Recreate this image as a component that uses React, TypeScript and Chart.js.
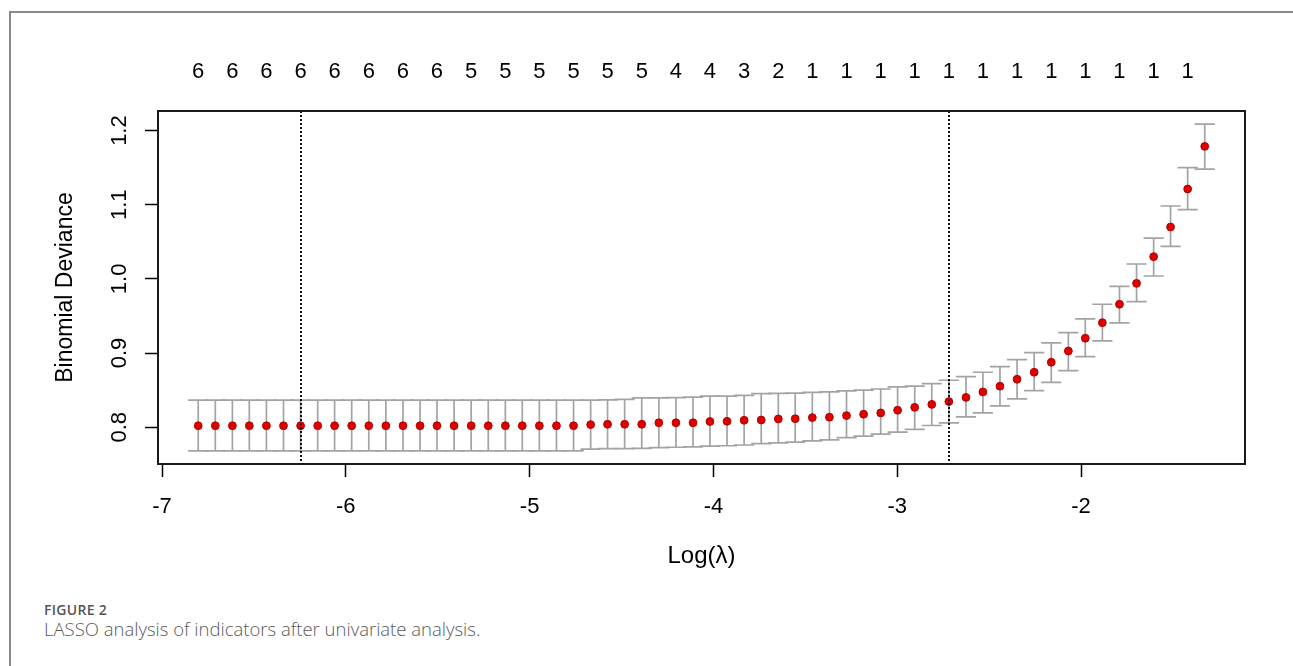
import React, { useEffect, useRef } from "react";
import { Chart, registerables } from "chart.js";

Chart.register(...registerables);

// log(lambda) values (x positions of the cross-validation points)
const logLambda = [
  -6.803, -6.710, -6.617, -6.525, -6.432, -6.339, -6.246, -6.153, -6.061, -5.968,
  -5.875, -5.782, -5.689, -5.596, -5.504, -5.411, -5.318, -5.225, -5.132, -5.040,
  -4.947, -4.854, -4.761, -4.668, -4.576, -4.483, -4.390, -4.297, -4.204, -4.111,
  -4.019, -3.926, -3.833, -3.740, -3.647, -3.555, -3.462, -3.369, -3.276, -3.183,
  -3.090, -2.998, -2.905, -2.812, -2.719, -2.626, -2.534, -2.441, -2.348, -2.255,
  -2.162, -2.069, -1.977, -1.884, -1.791, -1.698, -1.605, -1.513, -1.420, -1.327,
];

// mean binomial deviance
const meanDeviance = [
  0.802, 0.802, 0.802, 0.802, 0.802, 0.802, 0.802, 0.802, 0.802, 0.802,
  0.802, 0.802, 0.802, 0.802, 0.802, 0.802, 0.802, 0.802, 0.802, 0.802,
  0.802, 0.802, 0.802, 0.8035, 0.804, 0.804, 0.804, 0.806, 0.806, 0.806,
  0.8077, 0.808, 0.8094, 0.8097, 0.8112, 0.8115, 0.813, 0.8135, 0.8157, 0.8175,
  0.8193, 0.8229, 0.8268, 0.8308, 0.8346, 0.8402, 0.8476, 0.8553, 0.8647, 0.8741,
  0.8876, 0.9028, 0.92, 0.941, 0.9658, 0.994, 1.03, 1.07, 1.1212, 1.1787,
];

// upper error bar (mean + 1 SE)
const upperDeviance = [
  0.8364, 0.8364, 0.8364, 0.8364, 0.8364, 0.8364, 0.8364, 0.8364, 0.8364, 0.8364,
  0.8364, 0.8364, 0.8364, 0.8364, 0.8364, 0.8364, 0.8364, 0.8364, 0.8364, 0.8364,
  0.8364, 0.8364, 0.8364, 0.8365, 0.837, 0.8375, 0.8395, 0.8395, 0.84, 0.8405,
  0.8418, 0.842, 0.843, 0.8453, 0.8455, 0.846, 0.847, 0.8476, 0.849, 0.85,
  0.8515, 0.8545, 0.8555, 0.8589, 0.8633, 0.8683, 0.8741, 0.8818, 0.8912, 0.9006,
  0.9136, 0.9276, 0.946, 0.9658, 0.99, 1.0201, 1.0551, 1.0983, 1.15, 1.2088,
];

// lower error bar (mean - 1 SE)
const lowerDeviance = [
  0.768, 0.768, 0.768, 0.768, 0.768, 0.768, 0.768, 0.768, 0.768, 0.768,
  0.768, 0.768, 0.768, 0.768, 0.768, 0.768, 0.768, 0.768, 0.768, 0.768,
  0.768, 0.768, 0.768, 0.7705, 0.771, 0.771, 0.7715, 0.7726, 0.773, 0.7735,
  0.7744, 0.775, 0.776, 0.778, 0.779, 0.78, 0.7815, 0.783, 0.786, 0.788,
  0.7906, 0.7935, 0.797, 0.8023, 0.8058, 0.8139, 0.8193, 0.8287, 0.8381, 0.8494,
  0.8606, 0.8764, 0.8953, 0.9163, 0.9406, 0.9694, 1.0039, 1.0439, 1.0934, 1.1481,
];

// number of non-zero coefficients (shown at every other lambda on the top axis)
const nonzeroCounts = [
  "6", "6", "6", "6", "6", "6", "6", "6", "5", "5",
  "5", "5", "5", "5", "4", "4", "3", "2", "1", "1",
  "1", "1", "1", "1", "1", "1", "1", "1", "1", "1",
];

const xTickValues = [-7, -6, -5, -4, -3, -2];
const yTickValues = [0.8, 0.9, 1.0, 1.1, 1.2];

const lambdaMin = -6.246;
const lambda1se = -2.719;

const X_MIN = -7.0218;
const X_MAX = -1.108;
const Y_MIN = 0.7504;
const Y_MAX = 1.2264;
const CAP_HALF = 0.0548;

const FONT = "'Liberation Sans', Arial, Helvetica, sans-serif";

const topLabelPositions = logLambda.filter((_, i) => i % 2 === 0);

const lassoPlugin = {
  id: "lassoDecor",
  beforeDatasetsDraw(chart: any) {
    const { ctx } = chart;
    const xs = chart.scales.x;
    const ys = chart.scales.y;
    ctx.save();
    ctx.strokeStyle = "#a3a3a3";
    ctx.lineWidth = 1.7;
    logLambda.forEach((lv, i) => {
      const px = xs.getPixelForValue(lv);
      const pu = ys.getPixelForValue(upperDeviance[i]);
      const pl = ys.getPixelForValue(lowerDeviance[i]);
      const x0 = xs.getPixelForValue(lv - CAP_HALF);
      const x1 = xs.getPixelForValue(lv + CAP_HALF);
      ctx.beginPath();
      ctx.moveTo(px, pu);
      ctx.lineTo(px, pl);
      ctx.moveTo(x0, pu);
      ctx.lineTo(x1, pu);
      ctx.moveTo(x0, pl);
      ctx.lineTo(x1, pl);
      ctx.stroke();
    });
    ctx.restore();
  },
  afterDatasetsDraw(chart: any) {
    const { ctx, chartArea } = chart;
    const xs = chart.scales.x;
    ctx.save();
    ctx.strokeStyle = "#111";
    ctx.lineWidth = 2;
    ctx.setLineDash([2, 2]);
    [lambdaMin, lambda1se].forEach((v) => {
      const px = Math.round(xs.getPixelForValue(v));
      ctx.beginPath();
      ctx.moveTo(px, chartArea.top);
      ctx.lineTo(px, chartArea.bottom);
      ctx.stroke();
    });
    ctx.setLineDash([]);
    ctx.strokeStyle = "#1a1a1a";
    ctx.lineWidth = 2;
    ctx.strokeRect(chartArea.left, chartArea.top, chartArea.right - chartArea.left, chartArea.bottom - chartArea.top);
    ctx.restore();
  },
};

export default function App() {
  const canvasRef = useRef<HTMLCanvasElement | null>(null);

  useEffect(() => {
    const canvas = canvasRef.current;
    if (!canvas) return;
    const chart = new Chart(canvas, {
      type: "scatter",
      data: {
        datasets: [
          {
            data: logLambda.map((x, i) => ({ x, y: meanDeviance[i] })),
            backgroundColor: "#e00000",
            borderColor: "#b00000",
            borderWidth: 1,
            pointRadius: 3.9,
            pointHoverRadius: 3.9,
          },
        ],
      },
      options: {
        animation: false,
        responsive: false,
        events: [],
        layout: { padding: { left: 40, top: 0, right: 48, bottom: 1 } },
        plugins: { legend: { display: false }, tooltip: { enabled: false } },
        scales: {
          x: {
            type: "linear",
            position: "bottom",
            min: X_MIN,
            max: X_MAX,
            afterBuildTicks: (s: any) => {
              s.ticks = xTickValues.map((v) => ({ value: v }));
            },
            afterFit: (s: any) => {
              s.height = 125;
            },
            ticks: {
              callback: (v: any) => String(v),
              font: { family: FONT, size: 22 },
              color: "#000",
              padding: 17,
              maxRotation: 0,
              autoSkip: false,
            },
            grid: { drawOnChartArea: false, drawTicks: true, tickLength: 13, tickColor: "#000", tickWidth: 1.5 },
            border: { display: false },
            title: {
              display: true,
              text: "Log(λ)",
              font: { family: FONT, size: 24 },
              color: "#000",
              padding: { top: 0, bottom: 18.5 },
            },
          },
          x2: {
            type: "linear",
            position: "top",
            min: X_MIN,
            max: X_MAX,
            afterBuildTicks: (s: any) => {
              s.ticks = topLabelPositions.map((v) => ({ value: v }));
            },
            afterFit: (s: any) => {
              s.height = 111;
            },
            ticks: {
              callback: (_v: any, i: number) => nonzeroCounts[i],
              font: { family: FONT, size: 22 },
              color: "#000",
              padding: 26,
              maxRotation: 0,
              autoSkip: false,
            },
            grid: { display: false, drawTicks: false },
            border: { display: false },
          },
          y: {
            type: "linear",
            position: "left",
            min: Y_MIN,
            max: Y_MAX,
            afterBuildTicks: (s: any) => {
              s.ticks = yTickValues.map((v) => ({ value: v }));
            },
            afterFit: (s: any) => {
              s.width = 118;
            },
            ticks: {
              callback: (v: any) => Number(v).toFixed(1),
              font: { family: FONT, size: 22 },
              color: "#000",
              padding: 10,
              minRotation: 90,
              maxRotation: 90,
              crossAlign: "center",
              autoSkip: false,
            },
            grid: { drawOnChartArea: false, drawTicks: true, tickLength: 13, tickColor: "#000", tickWidth: 1.5 },
            border: { display: false },
            title: {
              display: true,
              text: "Binomial Deviance",
              font: { family: FONT, size: 23 },
              color: "#000",
              padding: { top: 12, bottom: 0 },
            },
          },
        },
      } as any,
      plugins: [lassoPlugin],
    });
    return () => chart.destroy();
  }, []);

  return (
    <div
      style={{
        position: "fixed",
        left: 0,
        top: 0,
        width: 1293,
        height: 666,
        overflow: "hidden",
        background: "#fff",
      }}
    >
      <div
        style={{
          position: "absolute",
          left: 9,
          top: 11,
          width: 1400,
          height: 800,
          border: "2px solid #8a8a8a",
          boxSizing: "border-box",
        }}
      />
      <canvas
        ref={canvasRef}
        width={1293}
        height={590}
        style={{ position: "absolute", left: 0, top: 0, width: 1293, height: 590 }}
      />
      <div
        style={{
          position: "absolute",
          left: 44,
          top: 603,
          fontFamily: "'Open Sans', sans-serif",
          fontWeight: 600,
          fontSize: 14,
          lineHeight: "14px",
          color: "#555",
          letterSpacing: 0.3,
          whiteSpace: "nowrap",
        }}
      >
        FIGURE 2
      </div>
      <div
        style={{
          position: "absolute",
          left: 44,
          top: 620,
          fontFamily: "'Open Sans', sans-serif",
          fontWeight: 300,
          fontSize: 18.5,
          lineHeight: "18.5px",
          color: "#5a5a5a",
          whiteSpace: "nowrap",
        }}
      >
        LASSO analysis of indicators after univariate analysis.
      </div>
    </div>
  );
}
